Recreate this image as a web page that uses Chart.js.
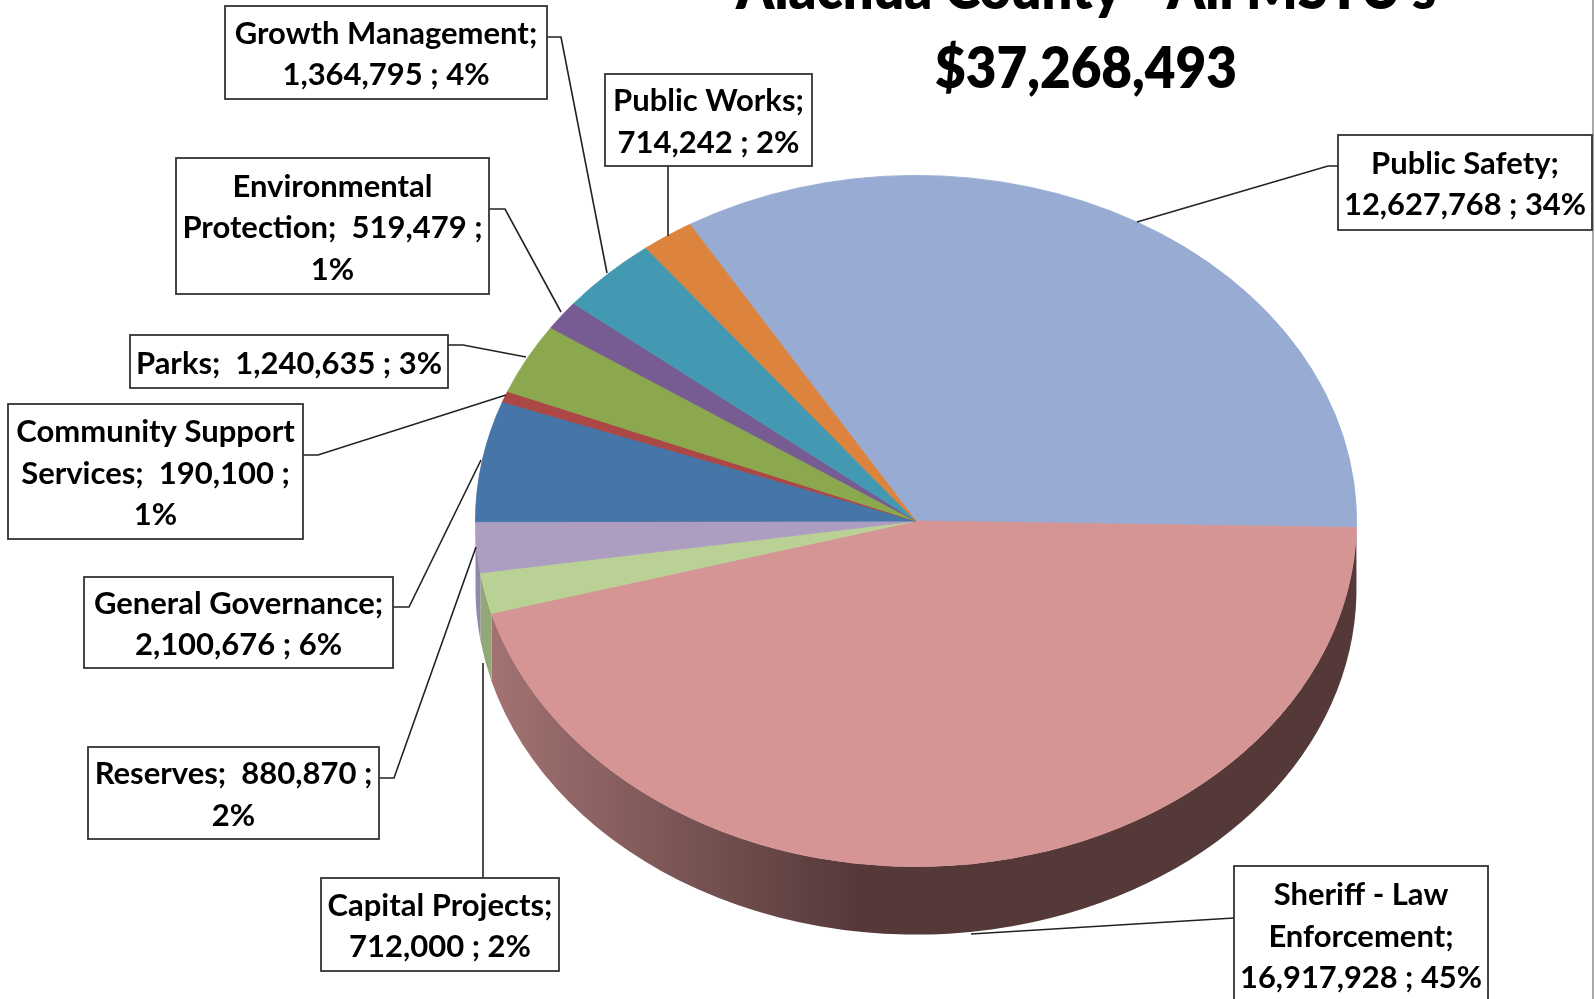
<!DOCTYPE html>
<html>
<head>
<meta charset="utf-8">
<title>Alachua County - All MSTU's</title>
<style>html,body{margin:0;padding:0;background:#fff;overflow:hidden}canvas{display:block;filter:blur(0.4px)}</style>
<script src="https://cdn.jsdelivr.net/npm/chart.js@4/dist/chart.umd.min.js"></script>
</head>
<body>
<canvas id="c" width="1595" height="999"></canvas>
<script>
const categories = ["Public Safety","Sheriff - Law Enforcement","Capital Projects","Reserves","General Governance","Community Support Services","Parks","Environmental Protection","Growth Management","Public Works"];
const amounts = [12627768,16917928,712000,880870,2100676,190100,1240635,519479,1364795,714242];
const sliceColors = ["#97ABD3","#D59594","#BAD196","#AD9DC0","#4675A8","#AB4745","#8BA84F","#775B93","#4399B1","#DC843D"];
const wallColors = ["#97ABD3","#553939","#93A877","#9488A8","#4675A8","#AB4745","#8BA84F","#775B93","#4399B1","#DC843D"];
const titleLines = ["Alachua County - All MSTU's","$37,268,493"];
// label text layout; {v} = value, {p} = percent
const labelTemplates = [
  ["Public Safety;","{v} ; {p}"],
  ["Sheriff - Law","Enforcement;","{v} ; {p}"],
  ["Capital Projects;","{v} ; {p}"],
  ["Reserves;  {v} ;","{p}"],
  ["General Governance;","{v} ; {p}"],
  ["Community Support","Services;  {v} ;","{p}"],
  ["Parks;  {v} ; {p}"],
  ["Environmental","Protection;  {v} ;","{p}"],
  ["Growth Management;","{v} ; {p}"],
  ["Public Works;","{v} ; {p}"]
];
// label boxes [x0,y0,x1,y1]
const labelBoxes = [
  [1338,135,1592,230],[1234,866,1488,1003],[321,878,559,971],[88,747,379,839],[84,577,393,668],
  [8,404,303,539],[130,335,448,388],[176,158,489,294],[225,6,547,99],[605,74,812,166]
];
// leader lines
const leaders = [
  [[1338,166],[1328,166],[1137,222]],
  [[1234,918],[971,934]],
  [[483,878],[483,663]],
  [[379,778],[394,778],[476,547]],
  [[393,607],[409,607],[481,460]],
  [[303,455],[318,455],[506,395]],
  [[448,345],[463,345],[526,357]],
  [[489,209],[505,209],[561,312]],
  [[547,37],[561,37],[607,273]],
  [[668,166],[668,236]]
];
const TILT = 346/441, DEPTH = 68;
const FONT = '"Lato"';
const total = amounts.reduce((a,b)=>a+b,0);

function labelLines(i){
  const v = amounts[i].toLocaleString('en-US');
  const p = Math.round(amounts[i]/total*100)+'%';
  return labelTemplates[i].map(s=>s.replace('{v}',v).replace('{p}',p));
}

const tilted = {
  id:'tilted',
  beforeDatasetsDraw(chart){
    const ctx = chart.ctx, arcs = chart.getDatasetMeta(0).data;
    const cx = arcs[0].x, cy = arcs[0].y, r = arcs[0].outerRadius, ry = r*TILT;
    ctx.save();
    arcs.forEach((a,i)=>{
      let s = a.startAngle, e = a.endAngle;
      for (const k of [0,2*Math.PI,-2*Math.PI]) {
        const s2 = Math.max(s+k,0), e2 = Math.min(e+k,Math.PI);
        if (e2 <= s2) continue;
        ctx.beginPath();
        ctx.ellipse(cx,cy,r,ry,0,s2,e2,false);
        ctx.ellipse(cx,cy+DEPTH,r,ry,0,e2,s2,true);
        ctx.closePath();
        if (i===1){
          const g = ctx.createLinearGradient(cx-r,0,cx-60,0);
          g.addColorStop(0,'#A67575');
          g.addColorStop(1,wallColors[1]);
          ctx.fillStyle = g;
        } else ctx.fillStyle = wallColors[i];
        ctx.fill();
      }
    });
    ctx.restore();
    ctx.save();
    ctx.translate(cx,cy); ctx.scale(1,TILT); ctx.translate(-cx,-cy);
  },
  afterDatasetsDraw(chart){
    const ctx = chart.ctx;
    ctx.restore();
    ctx.save();
    ctx.fillStyle='#a8a8a8'; ctx.fillRect(1592,0,2,999);
    ctx.fillStyle='#000'; ctx.textAlign='center'; ctx.textBaseline='alphabetic';
    ctx.font='800 56px '+FONT;
    ctx.fillText(titleLines[0],1086,9,700);
    ctx.fillText(titleLines[1],1086,88,302);
    ctx.strokeStyle='#222'; ctx.lineWidth=1.6;
    leaders.forEach(pts=>{
      ctx.beginPath();
      pts.forEach((p,i)=>i?ctx.lineTo(p[0],p[1]):ctx.moveTo(p[0],p[1]));
      ctx.stroke();
    });
    labelBoxes.forEach((b,i)=>{
      ctx.fillStyle='#fff'; ctx.fillRect(b[0],b[1],b[2]-b[0],b[3]-b[1]);
      ctx.strokeStyle='#333'; ctx.lineWidth=1.8;
      ctx.strokeRect(b[0],b[1],b[2]-b[0],b[3]-b[1]);
      const lines = labelLines(i), lh = 41.5, mid=(b[0]+b[2])/2, cy=(b[1]+b[3])/2+2;
      ctx.fillStyle='#000'; ctx.font='bold 31px '+FONT; ctx.textBaseline='middle';
      lines.forEach((t,k)=>{
        ctx.fillText(t,mid,cy+(k-(lines.length-1)/2)*lh,b[2]-b[0]-12);
      });
    });
    ctx.restore();
  }
};

new Chart(document.getElementById('c'),{
  type:'pie',
  data:{labels:categories,datasets:[{data:amounts,backgroundColor:sliceColors,borderColor:sliceColors,borderWidth:1,clip:false}]},
  options:{
    responsive:false,animation:false,rotation:-30.9,
    layout:{padding:{left:475,right:238,top:80,bottom:37}},
    plugins:{legend:{display:false},tooltip:{enabled:false},title:{display:false}}
  },
  plugins:[tilted,{id:'bg',beforeDraw(c){c.ctx.save();c.ctx.fillStyle='#fff';c.ctx.fillRect(0,0,c.width,c.height);c.ctx.restore();}}]
});
</script>
</body>
</html>
